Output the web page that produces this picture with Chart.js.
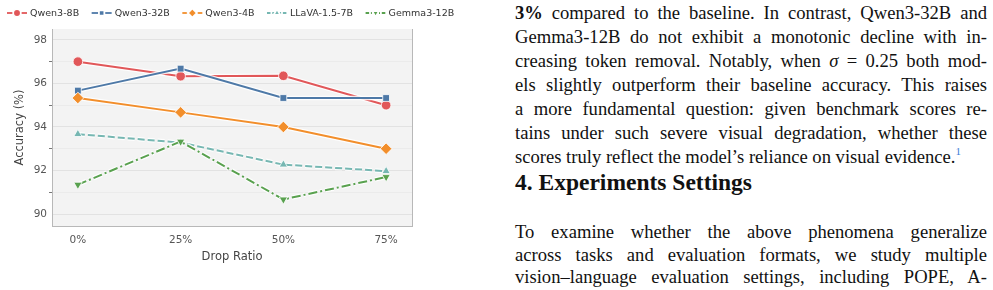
<!DOCTYPE html>
<html>
<head>
<meta charset="utf-8">
<script src="https://cdn.jsdelivr.net/npm/chart.js@4.4.1/dist/chart.umd.min.js"></script>
<style>
  body { margin: 0; background: #fff; width: 993px; height: 290px; overflow: hidden; position: relative; }
  #chartBox { position: absolute; left: 0; top: 0; width: 480px; height: 290px; }
  .txt { position: absolute; left: 515px; width: 472px; font-family: "Liberation Serif", "Times New Roman", serif; font-size: 18.6px; color: #111; }
  .ln { white-space: nowrap; text-align: justify; text-align-last: justify; }
  .ln.last { text-align-last: left; }
  #p1 { top: 1px; line-height: 24px; }
  #p2 { top: 221px; line-height: 22.5px; }
  #h4 { top: 168px; font-size: 23.5px; font-weight: bold; line-height: 28px; }
  sup { color: #3b7dd8; font-size: 11px; vertical-align: 8px; line-height: 0; }
</style>
</head>
<body>
<div id="chartBox"><canvas id="accChart"></canvas></div>

<div class="txt" id="p1">
  <div class="ln"><b>3%</b> compared to the baseline. In contrast, Qwen3-32B and</div>
  <div class="ln">Gemma3-12B do not exhibit a monotonic decline with in-</div>
  <div class="ln">creasing token removal. Notably, when <i>σ</i> = 0.25 both mod-</div>
  <div class="ln">els slightly outperform their baseline accuracy. This raises</div>
  <div class="ln">a more fundamental question: given benchmark scores re-</div>
  <div class="ln">tains under such severe visual degradation, whether these</div>
  <div class="ln last">scores truly reflect the model’s reliance on visual evidence.<sup>1</sup></div>
</div>
<div class="txt" id="h4">4. Experiments Settings</div>
<div class="txt" id="p2">
  <div class="ln">To examine whether the above phenomena generalize</div>
  <div class="ln">across tasks and evaluation formats, we study multiple</div>
  <div class="ln">vision–language evaluation settings, including POPE, A-</div>
</div>

<script>
// drop ratios (%) on the x axis
const dropRatios = [0, 25, 50, 75];
const models = ["Qwen3-8B", "Qwen3-32B", "Qwen3-4B", "LLaVA-1.5-7B", "Gemma3-12B"];

// accuracy (%) per model
const qwen8b  = [97.0, 96.33, 96.35, 95.0];
const qwen32b = [95.67, 96.68, 95.33, 95.33];
const qwen4b  = [95.33, 94.67, 94.0, 93.0];
const llava7b = [93.67, 93.28, 92.27, 91.97];
const gemma12b = [91.35, 93.33, 90.67, 91.7];

const yTicks = [90, 91, 92, 93, 94, 95, 96, 97, 98];

const seriesValues = [qwen8b, qwen32b, qwen4b, llava7b, gemma12b];
const colors = ["#e15759", "#4e79a7", "#f28e2b", "#76b7b2", "#59a14f"];
const dashes = [[], [], [], [7, 3], [9, 3, 2, 3]];
const markers = [
    { style: "circle", r: 4.8, rot: 0 },
    { style: "rect", r: 4.8, rot: 0 },
    { style: "rectRot", r: 5.8, rot: 0 },
    { style: "triangle", r: 4.8, rot: 0 },
    { style: "triangle", r: 4.8, rot: 180 }
];

const datasets = models.map(function (name, i) {
    return {
        label: name,
        data: seriesValues[i].map(function (v, j) { return { x: dropRatios[j], y: v }; }),
        borderColor: colors[i],
        backgroundColor: colors[i],
        borderWidth: 2,
        borderDash: dashes[i],
        pointStyle: markers[i].style,
        pointRadius: markers[i].r,
        pointRotation: markers[i].rot,
        pointBorderColor: "#ffffff",
        pointBorderWidth: 0.8,
        pointBackgroundColor: colors[i],
        tension: 0,
        order: models.length - i
    };
});

const FONT = "'DejaVu Sans', sans-serif";

// grey plot background + right spine
const frame = {
    id: "frame",
    beforeDraw(chart) {
        const { ctx, chartArea: a } = chart;
        ctx.save();
        ctx.fillStyle = "#f3f3f3";
        ctx.fillRect(a.left, a.top, a.right - a.left, a.bottom - a.top);
        ctx.restore();
    },
    afterDraw(chart) {
        const { ctx, chartArea: a } = chart;
        ctx.save();
        ctx.strokeStyle = "#b8b8b8";
        ctx.lineWidth = 1;
        ctx.beginPath();
        ctx.moveTo(a.right + 0.5, a.top);
        ctx.lineTo(a.right + 0.5, a.bottom);
        ctx.stroke();
        ctx.restore();
    }
};

// white halo under each line (like a stroke path effect)
const halo = {
    id: "halo",
    beforeDatasetDraw(chart, args) {
        const pts = args.meta.data;
        const ds = chart.data.datasets[args.index];
        const ctx = chart.ctx;
        ctx.save();
        ctx.strokeStyle = "rgba(255,255,255,0.85)";
        ctx.lineWidth = 4.5;
        ctx.lineJoin = "round";
        ctx.setLineDash(ds.borderDash.slice());
        ctx.beginPath();
        pts.forEach(function (p, k) {
            if (k === 0) ctx.moveTo(p.x, p.y); else ctx.lineTo(p.x, p.y);
        });
        ctx.stroke();
        ctx.restore();
    }
};

// legend row across the top, line sample + marker like matplotlib
const topLegend = {
    id: "topLegend",
    afterDraw(chart) {
        const ctx = chart.ctx;
        const y = 13;
        let x = 7;
        ctx.save();
        ctx.font = "9.5px " + FONT;
        ctx.textBaseline = "middle";
        chart.data.datasets.forEach(function (ds) {
            ctx.strokeStyle = ds.borderColor;
            ctx.lineWidth = 1.8;
            ctx.setLineDash(ds.borderDash.length ? [3.5, 1.8, 1, 1.8].slice(0, ds.borderDash.length) : []);
            ctx.beginPath();
            ctx.moveTo(x, y);
            ctx.lineTo(x + 20, y);
            ctx.stroke();
            ctx.setLineDash([]);
            ctx.fillStyle = ds.borderColor;
            ctx.strokeStyle = "#fff";
            Chart.helpers.drawPoint(ctx, {
                pointStyle: ds.pointStyle,
                radius: ds.pointRadius * 0.8,
                rotation: ds.pointRotation,
                borderWidth: 0.6
            }, x + 10, y);
            ctx.fillStyle = "#333";
            ctx.fillText(ds.label, x + 23, y + 0.5);
            x += 23 + ctx.measureText(ds.label).width + 12.5;
        });
        ctx.restore();
    }
};

new Chart(document.getElementById("accChart"), {
    type: "line",
    data: { datasets: datasets },
    plugins: [frame, halo, topLegend],
    options: {
        responsive: true,
        maintainAspectRatio: false,
        animation: false,
        devicePixelRatio: 1,
        layout: { padding: { top: 29, right: 68, left: 0, bottom: 0 } },
        plugins: { legend: { display: false }, tooltip: { enabled: false } },
        scales: {
            x: {
                type: "linear",
                min: -6.3,
                max: 81.3,
                afterBuildTicks(scale) { scale.ticks = dropRatios.map(function (v) { return { value: v }; }); },
                afterFit(scale) { scale.height = 64; },
                grid: { display: false, drawTicks: false },
                border: { display: true, color: "#b8b8b8", width: 1 },
                ticks: {
                    padding: 8,
                    color: "#555",
                    font: { family: FONT, size: 10.5 },
                    callback: function (v) { return v + "%"; }
                },
                title: {
                    display: true,
                    text: "Drop Ratio",
                    color: "#444",
                    font: { family: FONT, size: 11.5 },
                    padding: { top: 0, bottom: 26 }
                }
            },
            y: {
                min: 89.45,
                max: 98.5,
                afterBuildTicks(scale) { scale.ticks = yTicks.map(function (v) { return { value: v }; }); },
                afterFit(scale) { scale.width = 52; },
                grid: {
                    color: function (c) { return c.tick && c.tick.value % 2 === 0 ? "#e2e2e2" : "#ebebeb"; },
                    tickColor: function (c) { return c.tick && c.tick.value % 2 === 0 ? "rgba(0,0,0,0)" : "#777"; },
                    tickLength: 3,
                    lineWidth: 1
                },
                border: { display: true, color: "#b8b8b8", width: 1 },
                ticks: {
                    padding: 2,
                    color: "#555",
                    font: { family: FONT, size: 10.5 },
                    callback: function (v) { return v % 2 === 0 ? String(v) : ""; }
                },
                title: {
                    display: true,
                    text: "Accuracy (%)",
                    color: "#444",
                    font: { family: FONT, size: 11.5 },
                    padding: { top: 13, bottom: 0 }
                }
            }
        }
    }
});
</script>
</body>
</html>
